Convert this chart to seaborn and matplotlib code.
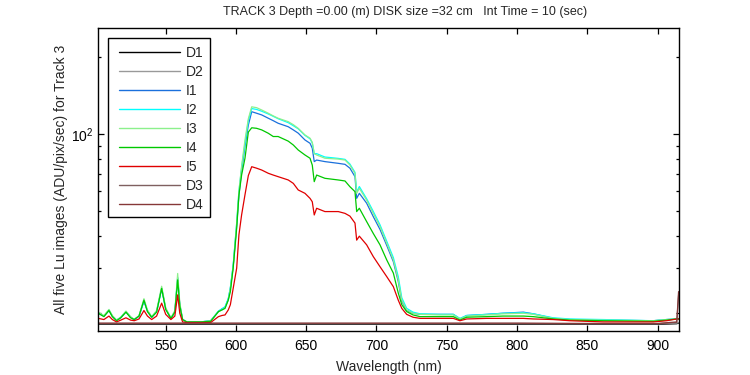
import numpy as np
import pandas as pd
import matplotlib
matplotlib.use("Agg")
import matplotlib.pyplot as plt
from matplotlib.ticker import LogLocator, NullFormatter, FixedLocator
from matplotlib.patches import Rectangle
import seaborn as sns

# ---------------- data ----------------
wl = [502, 506, 509.6, 512, 515, 518, 521.7, 525, 527.6, 531, 534.5, 537, 540,
      543.5, 547.1, 550, 553.7, 556.5, 558.5, 560, 562, 565, 575, 582, 587.5,
      590, 592.2, 594.5, 596, 598, 600.5, 602.1, 604, 606.4, 608.8, 611.2,
      614.7, 618.3, 623, 626.5, 630, 637.2, 640.8, 644.3, 649.1, 652.7, 654.3,
      655.7, 657.4, 663.3, 672.8, 677.6, 681.1, 684.7, 685.9, 687.8, 693,
      697.7, 702.5, 707.3, 712, 715.5, 718, 721.5, 726, 731, 745, 754.7, 759.4,
      764.2, 778.4, 790, 804.5, 811.6, 825.8, 837.7, 861.4, 897, 906.5, 913.7, 915]

I3 = [20.2, 19.6, 20.7, 19.6, 18.8, 19.3, 20.4, 19.4, 18.9, 19.6, 22.8, 20.6, 19.4,
      20.5, 25.5, 21.0, 19.2, 20.5, 28.6, 22.0, 18.9, 18.5, 18.5, 18.7, 20.3,
      20.6, 21.0, 22.5, 25.0, 30.5, 45, 60, 75, 95, 115, 128,
      127, 124.4, 120.8, 118, 115.5, 112, 109, 105.5, 99.4, 96.5, 93,
      84, 83, 80.6, 80, 79.3, 75.8, 70.4, 58.8, 61.5, 55.3,
      49.1, 43.6, 37.5, 32.3, 27, 22.5, 20.6, 20.0, 19.8, 19.7, 19.7, 19.0,
      19.5, 19.7, 19.9, 20.0, 19.8, 19.1, 18.9, 18.8, 18.7, 18.9, 19.0, 19.0]

I2 = [20.1, 19.5, 20.6, 19.5, 18.8, 19.3, 20.3, 19.3, 18.9, 19.5, 22.4, 20.4, 19.3,
      20.3, 25.0, 20.8, 19.1, 20.3, 27.5, 21.6, 18.9, 18.5, 18.5, 18.7, 20.4,
      20.8, 21.2, 22.8, 25.2, 30.8, 45, 60, 74, 92, 113, 126,
      125, 123, 120, 117.5, 115, 111, 108, 105, 99, 96, 92.5,
      84, 84, 81.5, 80.5, 79.8, 76.5, 71, 59.5, 62.5, 56,
      50, 44.3, 38.2, 33, 27.8, 23, 20.9, 20.2, 19.9, 19.8, 19.8, 19.1,
      19.6, 19.8, 20.0, 20.1, 19.9, 19.2, 19.0, 18.9, 18.7, 18.9, 19.0, 19.0]

I1 = [20.0, 19.5, 20.5, 19.5, 18.8, 19.2, 20.3, 19.3, 18.9, 19.5, 22.3, 20.4, 19.3,
      20.3, 25.0, 20.8, 19.1, 20.3, 27.5, 21.6, 18.9, 18.5, 18.5, 18.7, 20.3,
      20.8, 21.1, 22.7, 25.0, 30.5, 44, 58, 72, 90, 108.7, 122.5,
      120.8, 119, 115.5, 113, 110.4, 107, 104, 101, 95, 92.2, 88.2,
      78.2, 79.3, 78.2, 77, 76.3, 73.7, 68.3, 56.2, 58.8, 53.8,
      47.7, 42.5, 36.8, 31.8, 26.6, 22.3, 20.5, 20.0, 19.8, 19.8, 19.8, 19.0,
      19.6, 19.8, 20.0, 20.2, 19.9, 19.1, 18.9, 18.8, 18.7, 18.9, 19.0, 19.0]

I4 = [20.0, 19.4, 20.5, 19.4, 18.7, 19.2, 20.2, 19.2, 18.9, 19.5, 22.5, 20.3, 19.3,
      20.2, 25.0, 20.7, 19.1, 20.2, 27.0, 21.4, 18.9, 18.5, 18.5, 18.6, 20.3,
      20.6, 20.9, 22.5, 24.3, 30.0, 43, 57.9, 69.3, 80.6, 102, 106,
      105.5, 104, 100.9, 98, 98, 94, 90.8, 86.8, 83, 80.6, 75.8,
      65.3, 69.3, 67.3, 66.3, 65.7, 62.4, 59.7, 49.9, 51.4, 45.6,
      41, 37, 32.3, 28.7, 24, 21.6, 20.3, 19.7, 19.4, 19.4, 19.4, 18.8,
      19.3, 19.4, 19.5, 19.5, 19.4, 19.0, 18.8, 18.7, 18.6, 18.8, 19.0, 19.0]

I5 = [19.1, 18.9, 19.5, 18.9, 18.5, 18.8, 19.2, 18.8, 18.7, 19.0, 20.5, 19.5, 18.9,
      19.5, 21.9, 19.8, 18.9, 19.5, 23.6, 20.0, 18.5, 18.4, 18.4, 18.4, 19.4,
      19.6, 19.7, 20.6, 21.6, 25.0, 30, 40.5, 48.4, 58, 69, 74.7,
      73.7, 72.5, 70.4, 69.3, 68.3, 66.3, 64.3, 60.6, 58.8, 56.2, 54.5,
      48.4, 51.4, 49.9, 49.9, 49.1, 47.9, 45, 38.6, 40, 37,
      33.3, 30.4, 27.8, 25.4, 22.5, 20.9, 19.8, 19.3, 19.1, 19.1, 19.1, 18.7,
      19.0, 19.1, 19.1, 19.1, 19.0, 18.9, 18.7, 18.5, 18.5, 18.7, 19.0, 19.0]

wl_dark = [502, 550, 600, 650, 700, 750, 800, 850, 900, 913.7, 915]
D1 = [18.1, 18.1, 18.1, 18.1, 18.1, 18.1, 18.1, 18.1, 18.1, 18.2, 18.3]
D2 = [18.2, 18.2, 18.2, 18.2, 18.2, 18.2, 18.2, 18.2, 18.2, 18.3, 18.4]
D3 = [18.25, 18.25, 18.25, 18.25, 18.25, 18.25, 18.25, 18.2, 18.2, 18.4, 23.5]
D4 = [18.3, 18.3, 18.3, 18.3, 18.3, 18.3, 18.3, 18.25, 18.25, 18.5, 24.3]

order = ["D1", "D2", "I1", "I2", "I3", "I4", "I5", "D3", "D4"]
colors = {"D1": "#000000", "D2": "#999999", "I1": "#1a70dc", "I2": "#00ffff",
          "I3": "#8cf08c", "I4": "#00c800", "I5": "#e00000", "D3": "#7f6060",
          "D4": "#863838"}

series = {"D1": (wl_dark, D1), "D2": (wl_dark, D2), "I1": (wl, I1), "I2": (wl, I2),
          "I3": (wl, I3), "I4": (wl, I4), "I5": (wl, I5), "D3": (wl_dark, D3),
          "D4": (wl_dark, D4)}

rows = []
for name in order:
    xs, ys = series[name]
    for x, y in zip(xs, ys):
        rows.append({"wl": x, "val": y, "series": name})
df = pd.DataFrame(rows)

# ---------------- plot ----------------
sns.set_style("ticks")
plt.rcParams["font.family"] = ["Liberation Sans", "DejaVu Sans"]
plt.rcParams["mathtext.fontset"] = "custom"
plt.rcParams["mathtext.rm"] = "Liberation Sans"

W, H = 750, 375
fig = plt.figure(figsize=(7.5, 3.75), dpi=100)
ax = fig.add_axes([98/W, 1-331/H, (679-98)/W, (331-28)/H])

sns.lineplot(data=df, x="wl", y="val", hue="series", hue_order=order,
             palette=colors, estimator=None, sort=False, linewidth=0.9, ax=ax)

ax.set_yscale("log")
ax.set_xlim(501.8, 915.3)
ax.set_ylim(17.05, 260)
ax.xaxis.set_major_locator(FixedLocator([550, 600, 650, 700, 750, 800, 850, 900]))
ax.yaxis.set_major_locator(LogLocator(base=10, numticks=10))
ax.yaxis.set_minor_locator(LogLocator(base=10, subs=np.arange(2, 10), numticks=10))
ax.yaxis.set_minor_formatter(NullFormatter())

ax.tick_params(which="both", direction="in", top=True, right=True, labelsize=10,
               color="black", labelcolor="black")
ax.tick_params(which="major", length=4.2, width=0.9)
ax.tick_params(axis="x", which="major", pad=6)
ax.tick_params(which="minor", length=2.2, width=0.9)
for s in ax.spines.values():
    s.set_linewidth(1.0)
    s.set_color("black")

ax.set_xlabel("Wavelength (nm)", fontsize=10, labelpad=5)
ax.set_ylabel("All five Lu images (ADU/pix/sec) for Track 3", fontsize=10, labelpad=2)
fig.text(405/W, 1-12/H, "TRACK 3 Depth =0.00 (m) DISK size =32 cm   Int Time = 10 (sec)",
         ha="center", va="center", fontsize=9)

# legend: MATLAB-style box drawn separately
frame = Rectangle((108/W, 1-217/H), (210-108)/W, (217-38)/H, transform=fig.transFigure,
                  facecolor="white", edgecolor="black", linewidth=1.0, zorder=5,
                  clip_on=False)
ax.add_artist(frame)
leg = ax.legend(loc="upper left", bbox_to_anchor=(119/W, 1-46/H),
                bbox_transform=fig.transFigure,
                borderaxespad=0, frameon=False, fontsize=10,
                handlelength=4.4, handletextpad=0.42, labelspacing=0.36,
                borderpad=0, title=None)
leg.set_zorder(6)
for line in leg.get_lines():
    line.set_linewidth(1.0)

fig.savefig("out.png", dpi=100, facecolor="white")
